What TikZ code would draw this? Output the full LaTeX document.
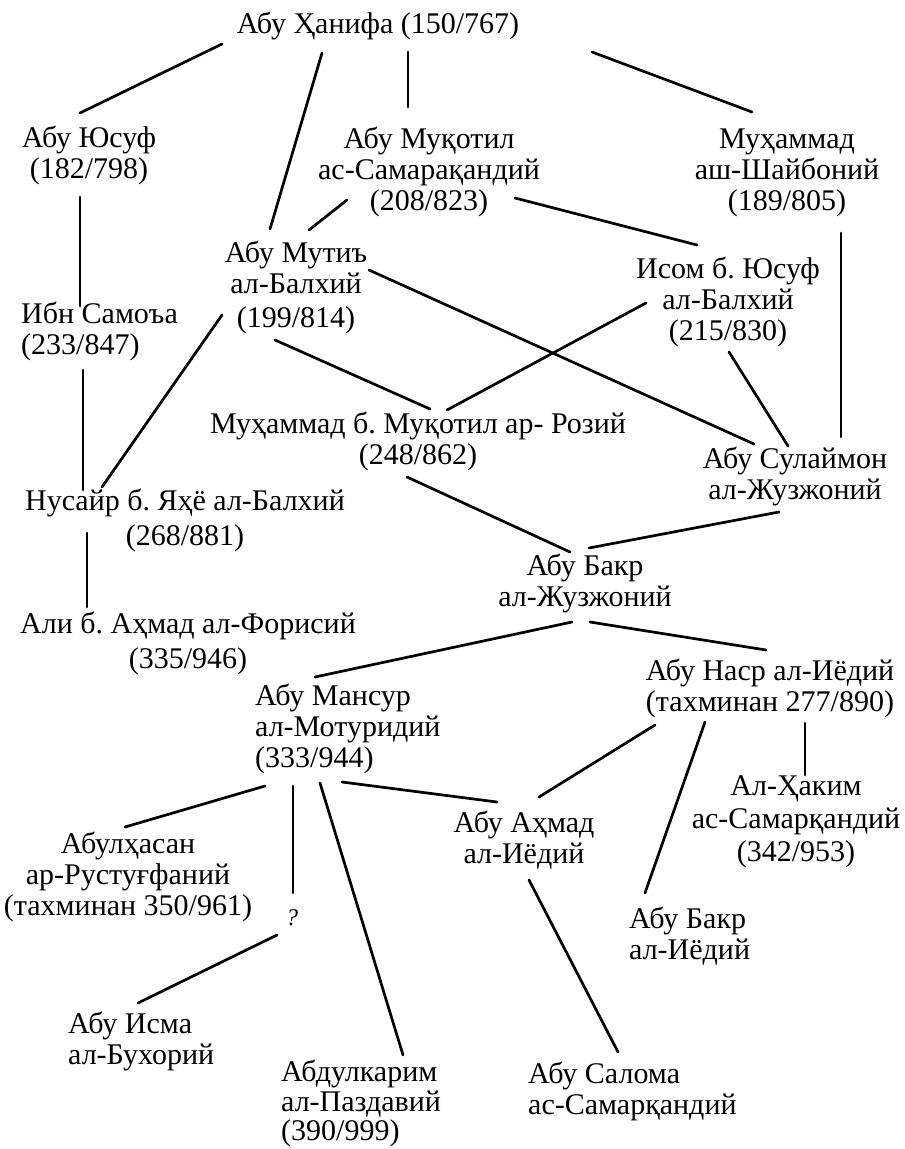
\documentclass[tikz,border=0pt]{standalone}
\usepackage{fontspec}
\setmainfont{Liberation Serif}
\frenchspacing
\newcommand\ppc[1]{\begin{tabular}[t]{@{}c@{}}#1\end{tabular}}
\newcommand\ppl[1]{\begin{tabular}[t]{@{}l@{}}#1\end{tabular}}
\begin{document}
\begin{tikzpicture}[x=1pt,y=-1pt,
  person/.style={inner sep=0pt,anchor=base,font=\fontsize{30}{31}\selectfont\frenchspacing},
  personl/.style={inner sep=0pt,anchor=base west,font=\fontsize{30}{31}\selectfont\frenchspacing},
  link/.style={line width=2.7pt,line cap=round}]
\fill[white] (0,0) rectangle (905,1149);
\useasboundingbox (0,0) rectangle (905,1149);
% nodes
\node[person] (hanifa) at (378,33) {Абу Ҳанифа (150/767)};
\node[person] (yusuf) at (89,147) {\ppc{Абу Юсуф\\(182/798)}};
\node[person] (muqotil) at (429,148) {\ppc{Абу Муқотил\\ас-Самарақандий\\(208/823)}};
\node[person] (shaiboni) at (787,148) {\ppc{Муҳаммад\\аш-Шайбоний\\(189/805)}};
\node[person] (mutiy) at (296,262) {\ppc{Абу Мутиъ\\ал-Балхий\\[3pt](199/814)}};
\node[person] (isom) at (728,278) {\ppc{Исом б. Юсуф\\ал-Балхий\\(215/830)}};
\node[personl] (ibnsamoa) at (21,323) {\ppl{Ибн Самоъа\\(233/847)}};
\node[person] (rozi) at (418,433) {\ppc{Муҳаммад б. Муқотил ар- Розий\\(248/862)}};
\node[person] (sulaymon) at (795,468) {\ppc{Абу Сулаймон\\ал-Жузжоний}};
\node[person] (nusayr) at (185,510) {\ppc{Нусайр б. Яҳё ал-Балхий\\[4pt](268/881)}};
\node[person] (bakr) at (585,575) {\ppc{Абу Бакр\\ал-Жузжоний}};
\node[person] (ali) at (188,633) {\ppc{Али б. Аҳмад ал-Форисий\\[4pt](335/946)}};
\node[person] (nasr) at (770,680) {\ppc{Абу Наср ал-Иёдий\\(тахминан 277/890)}};
\node[personl] (mansur) at (255,705) {\ppl{Абу Мансур\\ал-Мотуридий\\(333/944)}};
\node[person] (hakim) at (796,795) {\ppc{Ал-Ҳаким\\[2pt]ас-Самарқандий\\[2pt](342/953)}};
\node[person] (ahmad) at (524,832) {\ppc{Абу Аҳмад\\ал-Иёдий}};
\node[person] (rustug) at (128,853) {\ppc{Абулҳасан\\ар-Рустуғфаний\\(тахминан 350/961)}};
\node[person,font=\fontsize{24}{26}\selectfont\itshape] (q) at (292,925) {?};
\node[personl] (bakr2) at (629,928) {\ppl{Абу Бакр\\ал-Иёдий}};
\node[personl] (isma) at (68,1033) {\ppl{Абу Исма\\ал-Бухорий}};
\node[personl] (abdulkarim) at (281,1081) {\ppl{Абдулкарим\\[-1pt]ал-Паздавий\\[-2pt](390/999)}};
\node[personl] (salama) at (528,1083) {\ppl{Абу Салома\\ас-Самарқандий}};
% connectors
\draw[link] ([shift={(-156,11)}]hanifa.base) -- ([shift={(-9,-34)}]yusuf.base);
\draw[link] ([shift={(-56,20)}]hanifa.base) -- ([shift={(-26,-33)}]mutiy.base);
\draw[link] ([shift={(30,19)}]hanifa.base) -- ([shift={(-21,-41)}]muqotil.base);
\draw[link] ([shift={(214,19)}]hanifa.base) -- ([shift={(-35,-36)}]shaiboni.base);
\draw[link] ([shift={(-82,52)}]muqotil.base) -- ([shift={(13,-32)}]mutiy.base);
\draw[link] ([shift={(86,50)}]muqotil.base) -- ([shift={(-31,-33)}]isom.base);
\draw[link] ([shift={(-9,50)}]yusuf.base) -- ([shift={(59,-17)}]ibnsamoa.base west);
\draw[link] ([shift={(62,47)}]ibnsamoa.base west) -- ([shift={(-102,-20)}]nusayr.base);
\draw[link] ([shift={(-74,53)}]mutiy.base) -- ([shift={(-83,-23)}]nusayr.base);
\draw[link] ([shift={(73,8)}]mutiy.base) -- ([shift={(-41,-24)}]sulaymon.base);
\draw[link] ([shift={(-21,78)}]mutiy.base) -- ([shift={(12,-24)}]rozi.base);
\draw[link] ([shift={(-82,25)}]isom.base) -- ([shift={(29,-23)}]rozi.base);
\draw[link] ([shift={(1,74)}]isom.base) -- ([shift={(-7,-22)}]sulaymon.base);
\draw[link] ([shift={(54,85)}]shaiboni.base) -- ([shift={(46,-31)}]sulaymon.base);
\draw[link] ([shift={(-11,44)}]rozi.base) -- ([shift={(-15,-23)}]bakr.base);
\draw[link] ([shift={(-16,44)}]sulaymon.base) -- ([shift={(4,-27)}]bakr.base);
\draw[link] ([shift={(-98,23)}]nusayr.base) -- ([shift={(-101,-26)}]ali.base);
\draw[link] ([shift={(-13,47)}]bakr.base) -- ([shift={(60,-28)}]mansur.base west);
\draw[link] ([shift={(5,47)}]bakr.base) -- ([shift={(-4,-30)}]nasr.base);
\draw[link] ([shift={(10,81)}]mansur.base west) -- ([shift={(-3,-26)}]rustug.base);
\draw[link] ([shift={(38,81)}]mansur.base west) -- ([shift={(1,-32)}]q.base);
\draw[link] ([shift={(-15,10)}]q.base) -- ([shift={(70,-30)}]isma.base west);
\draw[link] ([shift={(65,78)}]mansur.base west) -- ([shift={(122,-26)}]abdulkarim.base west);
\draw[link] ([shift={(87,77)}]mansur.base west) -- ([shift={(-27,-30)}]ahmad.base);
\draw[link] ([shift={(-115,45)}]nasr.base) -- ([shift={(15,-35)}]ahmad.base);
\draw[link] ([shift={(-65,42)}]nasr.base) -- ([shift={(16,-35)}]bakr2.base west);
\draw[link] ([shift={(35,43)}]nasr.base) -- ([shift={(9,-20)}]hakim.base);
\draw[link] ([shift={(5,48)}]ahmad.base) -- ([shift={(90,-31)}]salama.base west);
\end{tikzpicture}
\end{document}
